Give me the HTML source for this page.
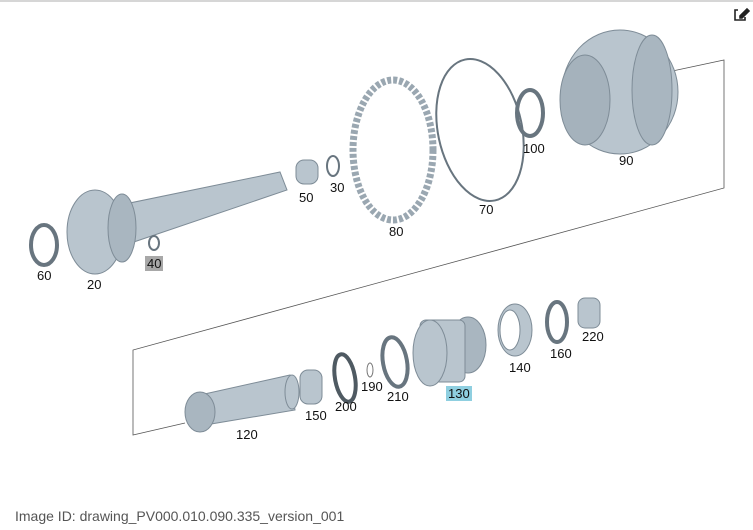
<!DOCTYPE html>
<html><head><style>
body{margin:0;background:#fff;width:753px;height:530px;overflow:hidden;font-family:"Liberation Sans",sans-serif}
.t{position:absolute;font-size:13px;color:#111}
</style></head><body>
<div style="position:absolute;left:0;top:0;width:753px;height:2px;background:#d6d6d6"></div>
<svg width="753" height="530" style="position:absolute;left:0;top:0">
<g fill="none" stroke="#555" stroke-width="0.8">
<polyline points="560,95 724,60 724,188 133,350 133,435 185,423"/>
</g>
<g stroke="#222" stroke-width="1.6" fill="none"><path d="M738 10 h-3 v10 h10 v-3"/><path d="M740 16 l7-7 2 2 -7 7 h-2z" fill="#222"/></g>
<g fill="#b9c5ce" stroke="#7e8c97" stroke-width="1">
<ellipse cx="44" cy="245" rx="13" ry="20" fill="none" stroke="#68757f" stroke-width="4"/>
<polygon points="120,205 280,172 287,190 125,245"/>
<ellipse cx="95" cy="232" rx="28" ry="42"/>
<ellipse cx="122" cy="228" rx="14" ry="34" fill="#a9b6c0"/>
<ellipse cx="154" cy="243" rx="5" ry="7" fill="none" stroke="#68757f" stroke-width="2"/>
<rect x="296" y="160" width="22" height="24" rx="8"/>
<ellipse cx="333" cy="166" rx="6" ry="10" fill="none" stroke="#68757f" stroke-width="2"/>
<ellipse cx="393" cy="150" rx="40" ry="70" fill="none" stroke="#9aa7b1" stroke-width="7" stroke-dasharray="4 2"/>
<ellipse cx="480" cy="130" rx="42" ry="72" fill="none" stroke="#68757f" stroke-width="2" transform="rotate(-12 480 130)"/>
<ellipse cx="530" cy="113" rx="13" ry="23" fill="none" stroke="#68757f" stroke-width="4"/>
<ellipse cx="620" cy="92" rx="58" ry="62"/>
<ellipse cx="652" cy="90" rx="20" ry="55" fill="#a9b6c0"/>
<ellipse cx="585" cy="100" rx="25" ry="45" fill="#a5b2bc"/>
<polygon points="200,395 290,375 295,410 205,425"/>
<ellipse cx="200" cy="412" rx="15" ry="20" fill="#a9b6c0"/>
<ellipse cx="292" cy="392" rx="7" ry="17"/>
<rect x="300" y="370" width="22" height="34" rx="8"/>
<ellipse cx="345" cy="378" rx="10" ry="24" fill="none" stroke="#4f5a62" stroke-width="4" transform="rotate(-10 345 378)"/>
<ellipse cx="370" cy="370" rx="3" ry="7" fill="none" stroke="#777" stroke-width="1"/>
<ellipse cx="395" cy="362" rx="12" ry="25" fill="none" stroke="#68757f" stroke-width="4" transform="rotate(-10 395 362)"/>
<ellipse cx="468" cy="345" rx="18" ry="28" fill="#a9b6c0"/>
<rect x="420" y="320" width="45" height="62" rx="6"/>
<ellipse cx="430" cy="353" rx="17" ry="33"/>
<ellipse cx="515" cy="330" rx="17" ry="26"/>
<ellipse cx="510" cy="330" rx="10" ry="20" fill="#fff"/>
<ellipse cx="557" cy="322" rx="10" ry="20" fill="none" stroke="#68757f" stroke-width="4"/>
<rect x="578" y="298" width="22" height="30" rx="7"/>
</g>
</svg>
<div class="t" style="left:37px;top:268px">60</div>
<div class="t" style="left:87px;top:277px">20</div>
<div class="t" style="left:145px;top:256px;background:#a8a8a8;padding:0 2px">40</div>
<div class="t" style="left:299px;top:190px">50</div>
<div class="t" style="left:330px;top:180px">30</div>
<div class="t" style="left:389px;top:224px">80</div>
<div class="t" style="left:479px;top:202px">70</div>
<div class="t" style="left:523px;top:141px">100</div>
<div class="t" style="left:619px;top:153px">90</div>
<div class="t" style="left:582px;top:329px">220</div>
<div class="t" style="left:550px;top:346px">160</div>
<div class="t" style="left:509px;top:360px">140</div>
<div class="t" style="left:446px;top:386px;background:#8fcfe0;padding:0 2px">130</div>
<div class="t" style="left:387px;top:389px">210</div>
<div class="t" style="left:361px;top:379px">190</div>
<div class="t" style="left:335px;top:399px">200</div>
<div class="t" style="left:305px;top:408px">150</div>
<div class="t" style="left:236px;top:427px">120</div>
<div style="position:absolute;left:15px;top:508px;font-size:14px;color:#555">Image ID: drawing_PV000.010.090.335_version_001</div>
</body></html>
